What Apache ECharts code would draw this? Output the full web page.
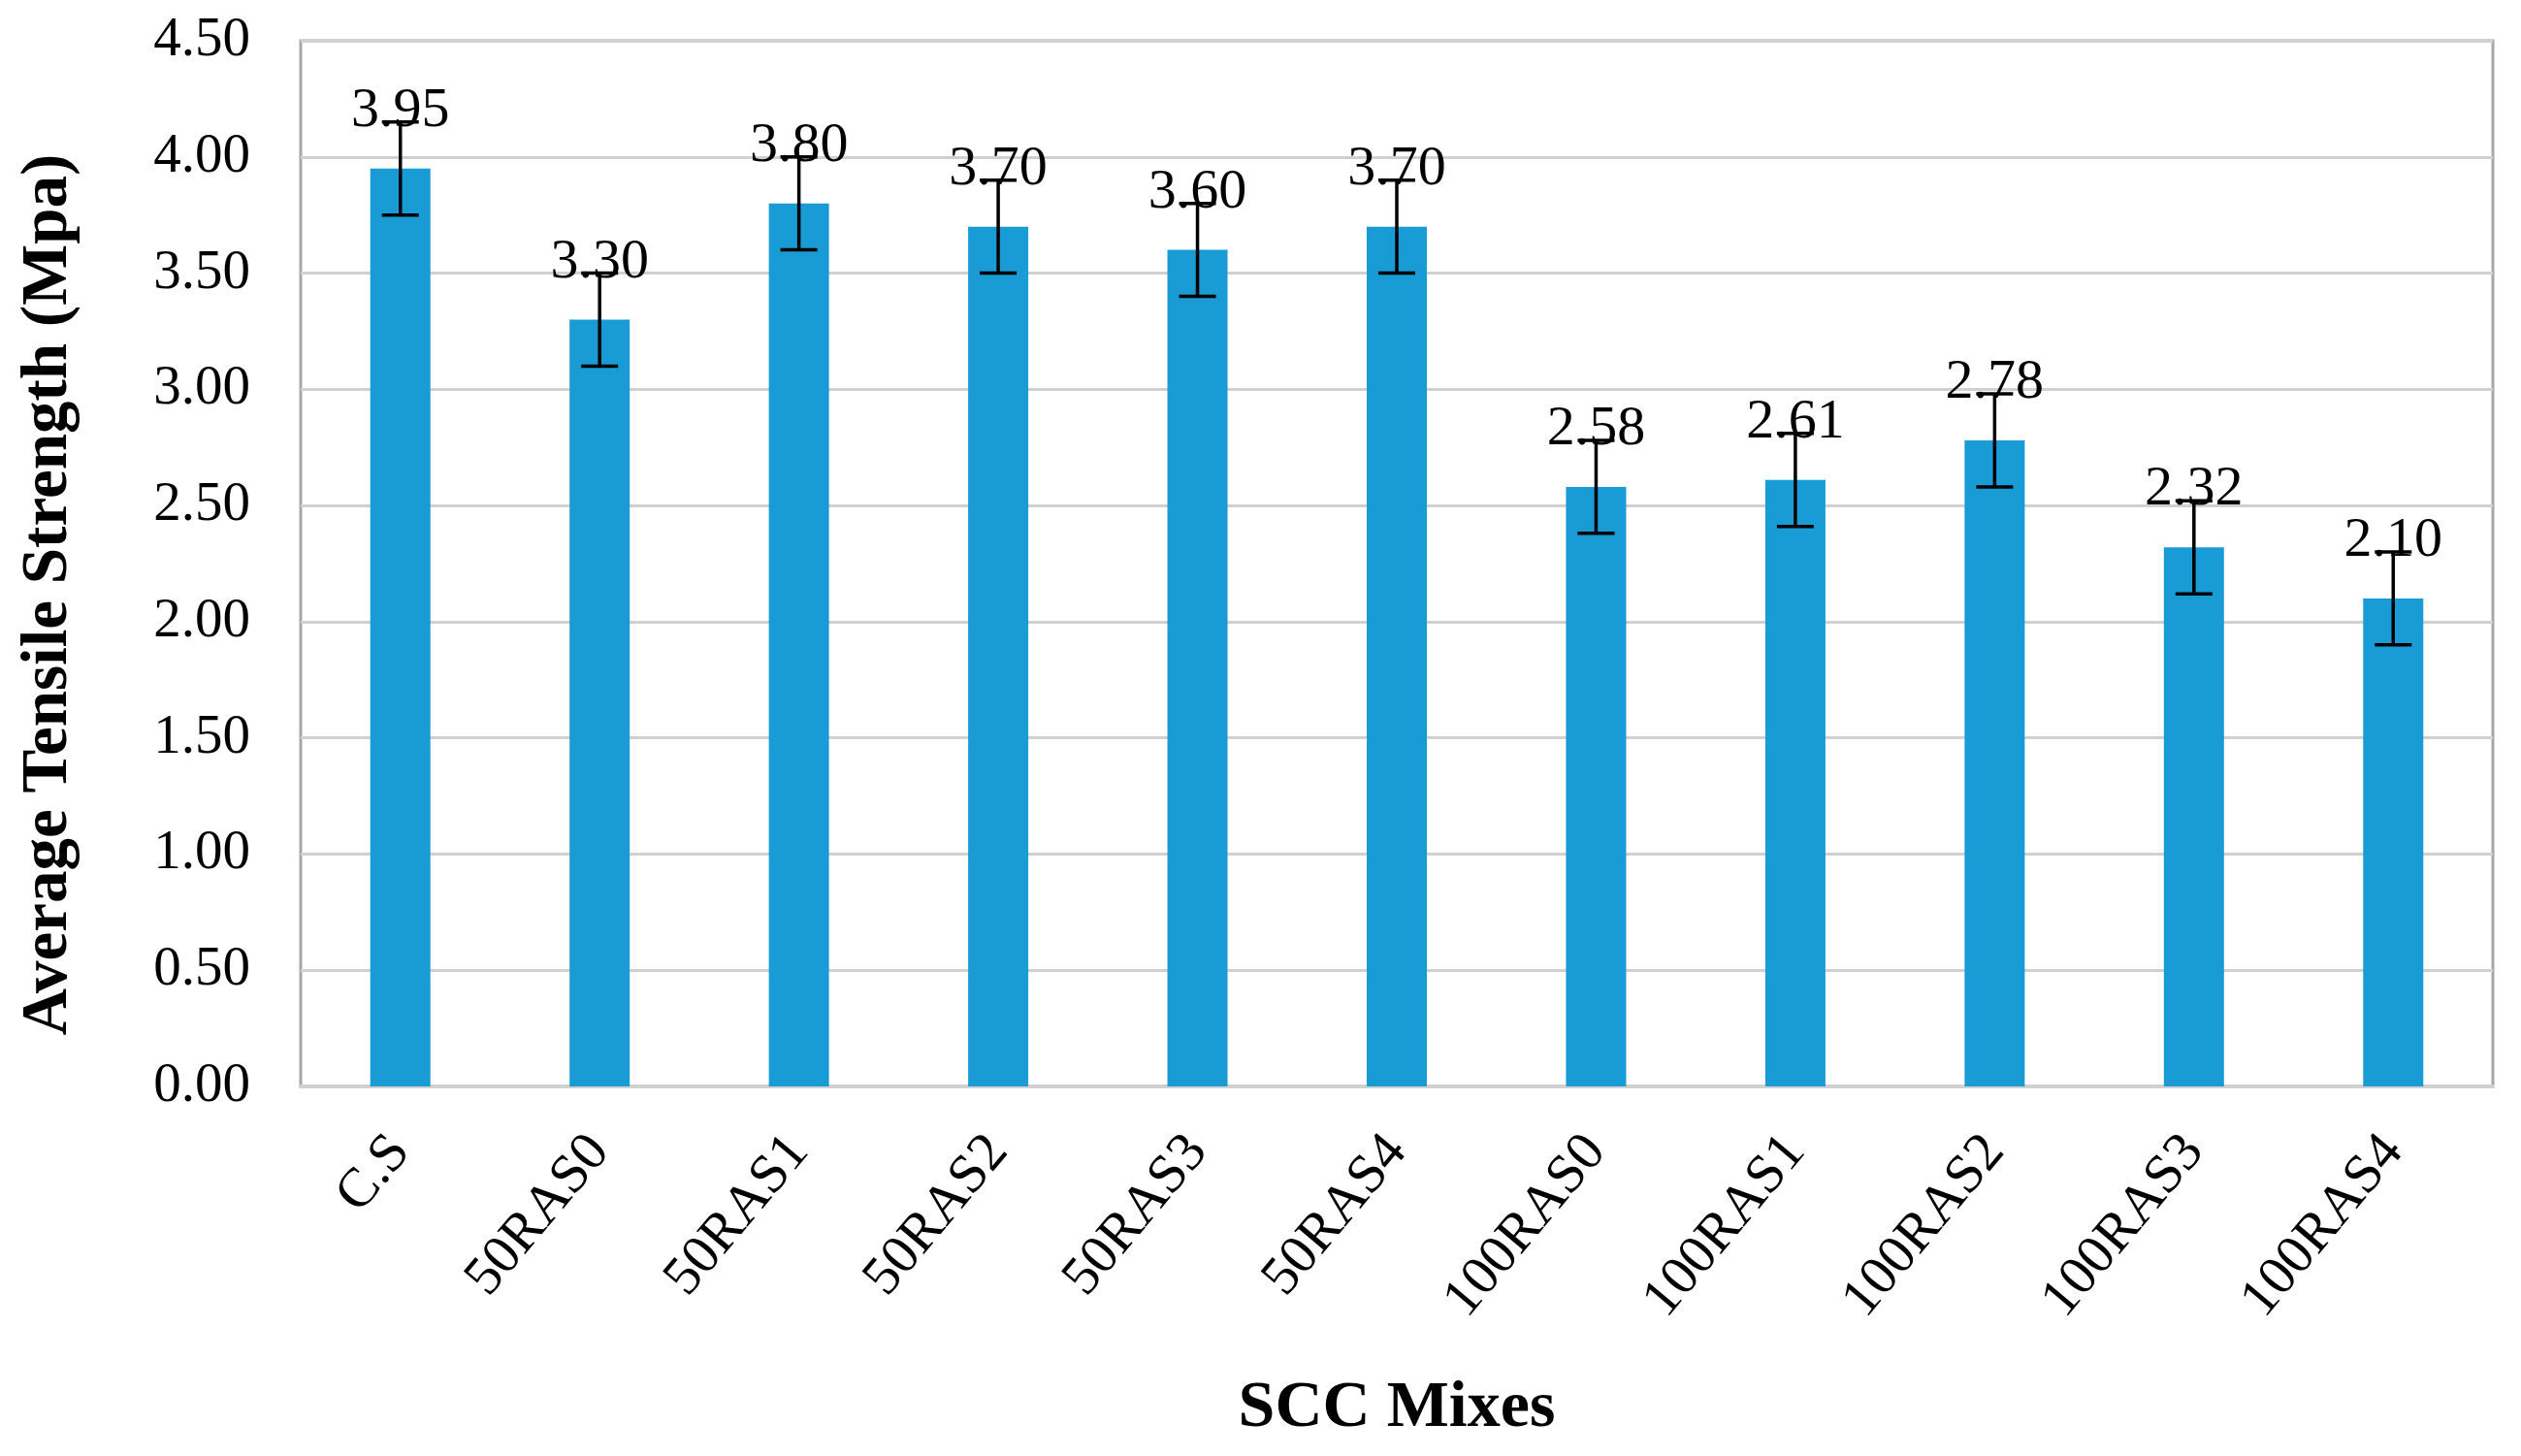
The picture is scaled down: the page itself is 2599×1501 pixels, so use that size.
<!DOCTYPE html>
<html lang="en">

<head>
    <meta charset="UTF-8">
    <title>Average Tensile Strength</title>
    <script src="https://cdn.jsdelivr.net/npm/echarts@6/dist/echarts.min.js"></script>
    <style>
        html, body { margin: 0; padding: 0; background: #fff; }
    </style>
</head>

<body>
    <div id="main" style="width: 2599px;height:1501px;"></div>
</body>
<script>
    // data
    let mixes = ['C.S', '50RAS0', '50RAS1', '50RAS2', '50RAS3', '50RAS4', '100RAS0', '100RAS1', '100RAS2', '100RAS3', '100RAS4'];
    let strength = [3.95, 3.30, 3.80, 3.70, 3.60, 3.70, 2.58, 2.61, 2.78, 2.32, 2.10];
    let errBar = [0.2, 0.2, 0.2, 0.2, 0.2, 0.2, 0.2, 0.2, 0.2, 0.2, 0.2];
    let yTicks = [0, 4.5, 0.5]; // min, max, step

    let font = '"Liberation Serif", "Times New Roman", serif';
    let myChart = echarts.init(document.getElementById('main'));

    let errData = strength.map(function(v, i) {
        return [i, v - errBar[i], v + errBar[i]];
    });

    myChart.setOption({
        animation: false,
        grid: {
            left: 310,
            right: 29,
            top: 42,
            bottom: 381,
            show: true,
            borderColor: '#a6a6a6',
            borderWidth: 3
        },
        xAxis: {
            type: 'category',
            data: mixes,
            name: 'SCC Mixes',
            nameLocation: 'middle',
            nameGap: 298,
            nameTextStyle: {
                fontFamily: font,
                fontWeight: 'bold',
                fontSize: 68,
                color: '#000'
            },
            axisLine: { lineStyle: { color: '#d0d0d0', width: 4 } },
            axisTick: { show: false },
            axisLabel: {
                interval: 0,
                rotate: 50,
                margin: 58,
                fontFamily: font,
                fontSize: 57,
                color: '#000'
            }
        },
        yAxis: {
            type: 'value',
            min: yTicks[0],
            max: yTicks[1],
            interval: yTicks[2],
            name: 'Average Tensile Strength (Mpa)',
            nameLocation: 'middle',
            nameGap: 226,
            nameTextStyle: {
                fontFamily: font,
                fontWeight: 'bold',
                fontSize: 67,
                color: '#000',
                padding: [0, 64, 0, 0]
            },
            axisLine: { show: false },
            axisTick: { show: false },
            splitLine: { lineStyle: { color: '#d0d0d0', width: 3 } },
            axisLabel: {
                margin: 52,
                fontFamily: font,
                fontSize: 57,
                color: '#000',
                formatter: function(v) {
                    return v.toFixed(2);
                }
            }
        },
        series: [{
            type: 'bar',
            data: strength,
            barWidth: 62,
            itemStyle: { color: '#199bd6' },
            label: {
                show: true,
                position: 'top',
                distance: 30,
                fontFamily: font,
                fontSize: 58,
                color: '#000',
                formatter: function(p) {
                    return p.value.toFixed(2);
                }
            }
        }, {
            type: 'custom',
            data: errData,
            z: 10,
            renderItem: function(params, api) {
                let x = api.value(0);
                let lo = api.coord([x, api.value(1)]);
                let hi = api.coord([x, api.value(2)]);
                let half = 19;
                let st = { stroke: '#000', lineWidth: 3.5 };
                return {
                    type: 'group',
                    children: [{
                        type: 'line',
                        shape: { x1: lo[0], y1: lo[1], x2: hi[0], y2: hi[1] },
                        style: st
                    }, {
                        type: 'line',
                        shape: { x1: hi[0] - half, y1: hi[1], x2: hi[0] + half, y2: hi[1] },
                        style: st
                    }, {
                        type: 'line',
                        shape: { x1: lo[0] - half, y1: lo[1], x2: lo[0] + half, y2: lo[1] },
                        style: st
                    }]
                };
            }
        }]
    });
</script>

</html>
